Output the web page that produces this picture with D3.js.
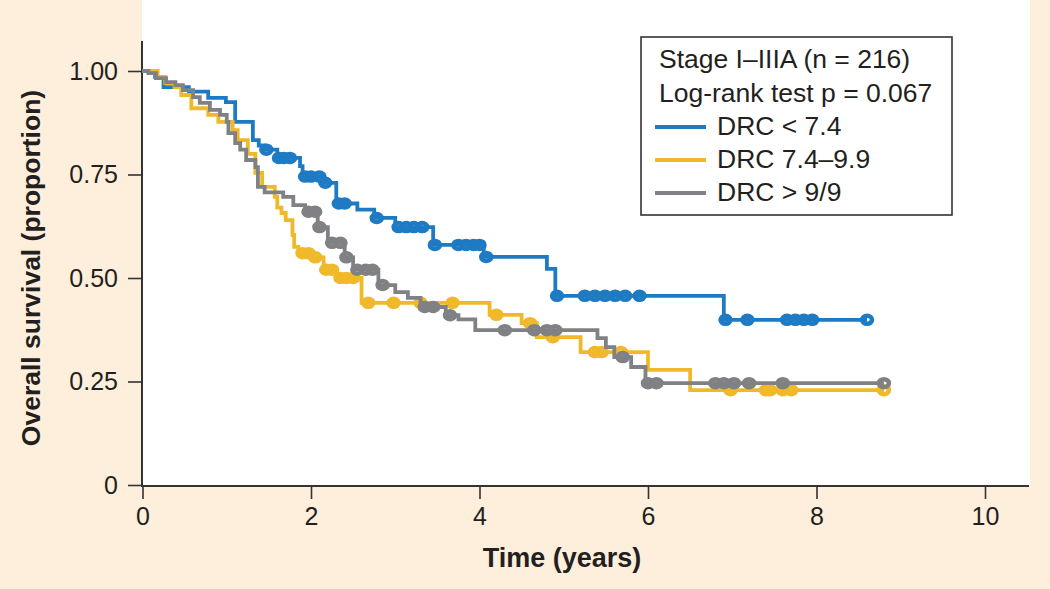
<!DOCTYPE html>
<html>
<head>
<meta charset="utf-8">
<script src="https://cdn.jsdelivr.net/npm/d3@7"></script>
<style>
  html, body { margin: 0; padding: 0; background: #fdefdb; }
  svg { display: block; }
  text { font-family: "Liberation Sans", Arial, Helvetica, sans-serif; fill: #231f20; }
</style>
</head>
<body>
<svg id="chart" width="1050" height="589"></svg>
<script>
// ---------- DATA ----------
const xTicks = [0, 2, 4, 6, 8, 10];
const yTicks = [0, 0.25, 0.5, 0.75, 1.0];
const yTickLabels = ["0", "0.25", "0.50", "0.75", "1.00"];

const seriesNames = ["DRC < 7.4", "DRC 7.4\u20139.9", "DRC > 9/9"];
const seriesColors = ["#1e7bc3", "#f0b92a", "#808184"];

// steps: [time, survival after this time]
const blueSteps = [[0,1],[0.15,0.985],[0.25,0.961],[0.55,0.95],[0.78,0.935],[0.99,0.925],[1.1,0.877],[1.31,0.833],[1.38,0.82],[1.45,0.81],[1.6,0.79],[1.87,0.77],[1.9,0.745],[2.13,0.73],[2.3,0.68],[2.55,0.665],[2.75,0.645],[3.0,0.623],[3.45,0.58],[4.05,0.551],[4.8,0.522],[4.9,0.457],[6.9,0.399]];
const blueEnd = 8.6;
const blueCensor = [1.47,1.62,1.68,1.75,1.93,2.0,2.1,2.17,2.33,2.4,2.78,3.04,3.13,3.22,3.32,3.47,3.75,3.84,3.93,4.0,4.08,4.92,5.25,5.37,5.49,5.61,5.73,5.9,6.92,7.18,7.65,7.75,7.85,7.95,8.6];

const yellowSteps = [[0,1],[0.18,0.986],[0.27,0.971],[0.38,0.961],[0.46,0.942],[0.58,0.91],[0.78,0.894],[0.9,0.877],[1.07,0.857],[1.13,0.833],[1.25,0.80],[1.34,0.754],[1.42,0.72],[1.57,0.696],[1.6,0.67],[1.65,0.657],[1.7,0.64],[1.78,0.604],[1.8,0.575],[1.85,0.56],[2.0,0.55],[2.15,0.52],[2.3,0.50],[2.6,0.44],[4.12,0.411],[4.5,0.391],[4.68,0.357],[5.2,0.321],[6.0,0.278],[6.5,0.229]];
const yellowEnd = 8.8;
const yellowCensor = [1.9,1.97,2.05,2.18,2.25,2.35,2.42,2.5,2.68,2.98,3.3,3.68,4.2,4.6,4.87,5.37,5.45,5.68,6.98,7.4,7.45,7.6,7.7,8.8];

const graySteps = [[0,1],[0.07,0.995],[0.16,0.983],[0.28,0.973],[0.39,0.966],[0.48,0.954],[0.6,0.937],[0.68,0.923],[0.8,0.906],[0.92,0.894],[1.0,0.877],[1.02,0.85],[1.1,0.826],[1.16,0.81],[1.23,0.785],[1.34,0.768],[1.37,0.72],[1.45,0.707],[1.67,0.696],[1.79,0.676],[1.93,0.66],[2.08,0.623],[2.2,0.585],[2.4,0.55],[2.5,0.52],[2.8,0.483],[3.0,0.466],[3.15,0.452],[3.3,0.43],[3.6,0.41],[3.75,0.40],[3.95,0.374],[5.4,0.355],[5.5,0.333],[5.6,0.309],[5.8,0.285],[5.97,0.246]];
const grayEnd = 8.8;
const grayCensor = [1.97,2.05,2.1,2.25,2.35,2.42,2.55,2.65,2.73,2.85,3.35,3.45,3.65,4.3,4.65,4.8,4.9,5.7,6.0,6.1,6.8,6.9,7.02,7.2,7.6,8.8];

const legendTitle = ["Stage I\u2013IIIA (n = 216)", "Log-rank test p = 0.067"];

// ---------- LAYOUT ----------
const svg = d3.select("#chart");
const x = d3.scaleLinear().domain([0, 10]).range([142.5, 985]);
const y = d3.scaleLinear().domain([0, 1]).range([485, 71]);

// white plot panel
svg.append("rect").attr("x", 142).attr("y", 0).attr("width", 888).attr("height", 486).attr("fill", "#ffffff");

// axes
const xAxis = d3.axisBottom(x).tickValues(xTicks).tickSize(13).tickPadding(8).tickFormat(d3.format("d"));
const gx = svg.append("g").attr("transform", "translate(0,486)").call(xAxis);
gx.select(".domain").remove();
gx.append("line").attr("x1", 142).attr("x2", 1029).attr("y1", 0).attr("y2", 0).attr("stroke", "#333").attr("stroke-width", 2);
gx.selectAll(".tick line").attr("stroke", "#333").attr("stroke-width", 1.6);
gx.selectAll(".tick text").style("font-size", "25px").attr("fill", "#231f20");

const yAxis = d3.axisLeft(y).tickValues(yTicks).tickSize(14).tickPadding(10).tickFormat((d, i) => yTickLabels[i]);
const gy = svg.append("g").attr("transform", "translate(142,0)").call(yAxis);
gy.select(".domain").remove();
gy.append("line").attr("x1", 0).attr("x2", 0).attr("y1", 41).attr("y2", 487).attr("stroke", "#333").attr("stroke-width", 2);
gy.selectAll(".tick line").attr("stroke", "#333").attr("stroke-width", 1.6);
gy.selectAll(".tick text").style("font-size", "25px").attr("fill", "#231f20");

// axis titles
svg.append("text").attr("x", 562).attr("y", 567).attr("text-anchor", "middle")
  .style("font-size", "27px").style("font-weight", "bold").text("Time (years)");
svg.append("text").attr("transform", "translate(40,268) rotate(-90)").attr("text-anchor", "middle")
  .style("font-size", "26.5px").style("font-weight", "bold").text("Overall survival (proportion)");

// ---------- CURVES ----------
const series = [
  { steps: blueSteps, end: blueEnd, censor: blueCensor, color: seriesColors[0] },
  { steps: yellowSteps, end: yellowEnd, censor: yellowCensor, color: seriesColors[1] },
  { steps: graySteps, end: grayEnd, censor: grayCensor, color: seriesColors[2] }
];

function survAt(steps, t) {
  let s = 1;
  for (const [tt, v] of steps) { if (tt <= t) s = v; }
  return s;
}

const line = d3.line().x(d => x(d[0])).y(d => y(d[1])).curve(d3.curveStepAfter);

series.forEach(sr => {
  const pts = sr.steps.slice();
  pts.push([sr.end, pts[pts.length - 1][1]]);
  svg.append("path").datum(pts).attr("d", line)
    .attr("fill", "none").attr("stroke", sr.color).attr("stroke-width", 3.8)
    .attr("stroke-linejoin", "miter");
  svg.append("g").selectAll("ellipse").data(sr.censor).join("ellipse")
    .attr("cx", d => x(d)).attr("cy", d => y(survAt(sr.steps, d)))
    .attr("rx", 5).attr("ry", 4)
    .attr("fill", "none").attr("stroke", sr.color).attr("stroke-width", 4.5);
});

// ---------- LEGEND ----------
const lg = svg.append("g");
lg.append("rect").attr("x", 641).attr("y", 37).attr("width", 311).attr("height", 178)
  .attr("fill", "#ffffff").attr("stroke", "#333").attr("stroke-width", 1.6);
legendTitle.forEach((t, i) => {
  lg.append("text").attr("x", 659).attr("y", 68 + i * 34).style("font-size", "26.5px").text(t);
});
seriesNames.forEach((n, i) => {
  const yy = 135 + i * 33;
  lg.append("line").attr("x1", 655).attr("x2", 706).attr("y1", yy - 8).attr("y2", yy - 8)
    .attr("stroke", seriesColors[i]).attr("stroke-width", 4);
  lg.append("text").attr("x", 717).attr("y", yy).style("font-size", "26.5px").text(n);
});
</script>
</body>
</html>
